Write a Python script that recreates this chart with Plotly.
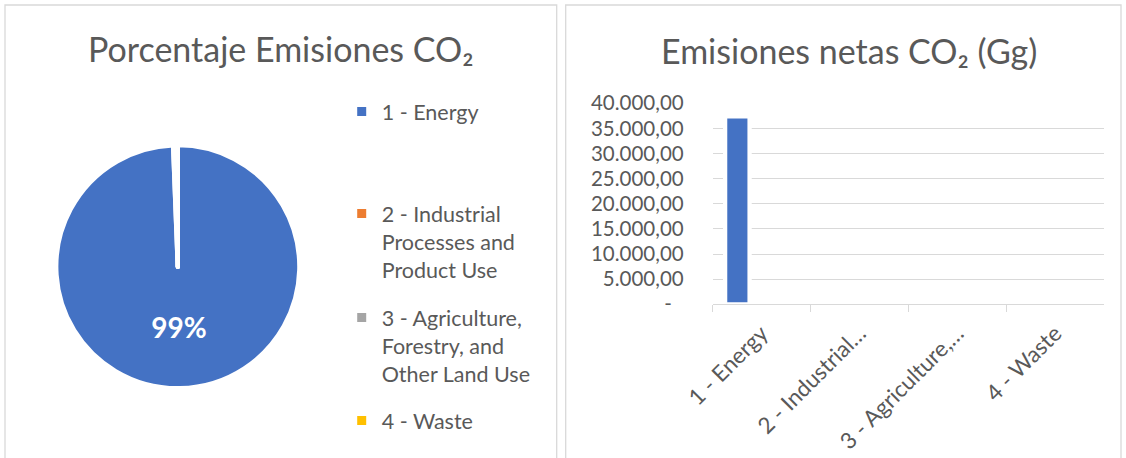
import plotly.graph_objects as go

# ---------------- data ----------------
categories = [
    "1 - Energy",
    "2 - Industrial Processes and Product Use",
    "3 - Agriculture, Forestry, and Other Land Use",
    "4 - Waste",
]
legend_labels = [
    "1 - Energy",
    "2 - Industrial<br>Processes and<br>Product Use",
    "3 - Agriculture,<br>Forestry, and<br>Other Land Use",
    "4 - Waste",
]
bar_tick_labels = ["1 - Energy", "2 - Industrial…", "3 - Agriculture,…", "4 - Waste"]
emissions_gg = [37400, 200, 0, 30]
slice_colors = ["#4472C4", "#ED7D31", "#A5A5A5", "#FFC000"]
ytick_vals = [0, 5000, 10000, 15000, 20000, 25000, 30000, 35000, 40000]
ytick_text = ["-\u2007", "5.000,00", "10.000,00", "15.000,00", "20.000,00",
              "25.000,00", "30.000,00", "35.000,00", "40.000,00"]
pie_title = "Porcentaje Emisiones CO₂"
bar_title = "Emisiones netas CO₂ (Gg)"

# ---------------- layout helpers ----------------
W, H = 1126, 458
FONT = "Lato"
TXT = "#595959"
GRID = "#d9d9d9"


def fx(px):
    return px / W


def fy(py):
    return 1 - py / H


fig = go.Figure()

# pie
fig.add_trace(go.Pie(
    labels=categories,
    values=emissions_gg,
    sort=False,
    direction="clockwise",
    rotation=0,
    marker=dict(colors=slice_colors, line=dict(color="white", width=4.4)),
    texttemplate=["%{percent:.0%}", "", "", ""],
    textposition="inside",
    insidetextfont=dict(family=FONT, size=28, color="white", weight="bold"),
    domain=dict(x=[fx(56.2), fx(299.4)], y=[fy(388.3), fy(145.1)]),
    showlegend=False,
    hoverinfo="label+value+percent",
))

# bar
fig.add_trace(go.Bar(
    x=categories,
    y=emissions_gg,
    marker=dict(color=slice_colors[0], line=dict(color="white", width=4.3)),
    width=0.25,
    offset=-0.373,
    showlegend=False,
    xaxis="x", yaxis="y",
))

# legend entries (one legend per entry to reproduce the Excel spacing)
legend_tops = [91, 193, 297, 400]
legend_names = ["legend", "legend2", "legend3", "legend4"]
for lab, col, lg in zip(legend_labels, slice_colors, legend_names):
    fig.add_trace(go.Scatter(
        x=[None], y=[None], mode="markers",
        marker=dict(symbol="square", size=9, color=col),
        name=lab, legend=lg, hoverinfo="skip", showlegend=True,
        xaxis="x", yaxis="y",
    ))

legend_common = dict(
    xanchor="left", yanchor="top", font=dict(family=FONT, size=21.5, color=TXT),
    bgcolor="rgba(0,0,0,0)", valign="top", itemclick=False, itemdoubleclick=False,
)
layout_legends = {}
for lg, top in zip(legend_names, legend_tops):
    layout_legends[lg] = dict(x=fx(341.7), y=fy(top), **legend_common)

fig.update_layout(
    template="none",
    width=W, height=H,
    margin=dict(l=0, r=0, t=0, b=0, pad=0, autoexpand=False),
    paper_bgcolor="white", plot_bgcolor="white",
    font=dict(family=FONT, color=TXT),
    xaxis=dict(
        domain=[fx(712.7), fx(1104)], automargin=False,
        type="category", categoryarray=categories, range=[-0.5, 3.5],
        tickvals=categories, ticktext=bar_tick_labels,
        showline=True, linecolor=GRID, linewidth=1.3,
        ticks="outside", tickson="boundaries", ticklen=7, tickcolor=GRID, tickwidth=1.3,
        tickangle=-45, ticklabelstandoff=6,
        tickfont=dict(family=FONT, size=22.5, color=TXT),
        showgrid=False, zeroline=False, fixedrange=True,
    ),
    yaxis=dict(
        domain=[fy(304.3), fy(103.3)], automargin=False,
        range=[0, 40000], tickvals=ytick_vals, ticktext=ytick_text,
        showgrid=True, gridcolor=GRID, gridwidth=1.3,
        zeroline=False, showline=False, ticks="",
        ticklabelstandoff=28,
        tickfont=dict(family=FONT, size=20.5, color=TXT), fixedrange=True,
    ),
    annotations=[
        dict(text=pie_title, x=fx(281), y=fy(49), xref="paper", yref="paper",
             xanchor="center", yanchor="middle", showarrow=False,
             font=dict(family=FONT, size=34, color=TXT)),
        dict(text=bar_title, x=fx(849), y=fy(51), xref="paper", yref="paper",
             xanchor="center", yanchor="middle", showarrow=False,
             font=dict(family=FONT, size=34, color=TXT)),
    ],
    shapes=[
        dict(type="rect", xref="paper", yref="paper",
             x0=fx(5), x1=fx(556.7), y0=fy(470), y1=fy(5),
             line=dict(color=GRID, width=1.3), fillcolor="rgba(0,0,0,0)", layer="below"),
        dict(type="rect", xref="paper", yref="paper",
             x0=fx(565.7), x1=fx(1121), y0=fy(470), y1=fy(5),
             line=dict(color=GRID, width=1.3), fillcolor="rgba(0,0,0,0)", layer="below"),
    ],
    **layout_legends,
)

fig.write_html(
    "out.html",
    config={"displayModeBar": False},
    post_script="document.body.style.margin='0';document.body.style.padding='0';"
                "document.body.style.overflow='hidden';",
)
